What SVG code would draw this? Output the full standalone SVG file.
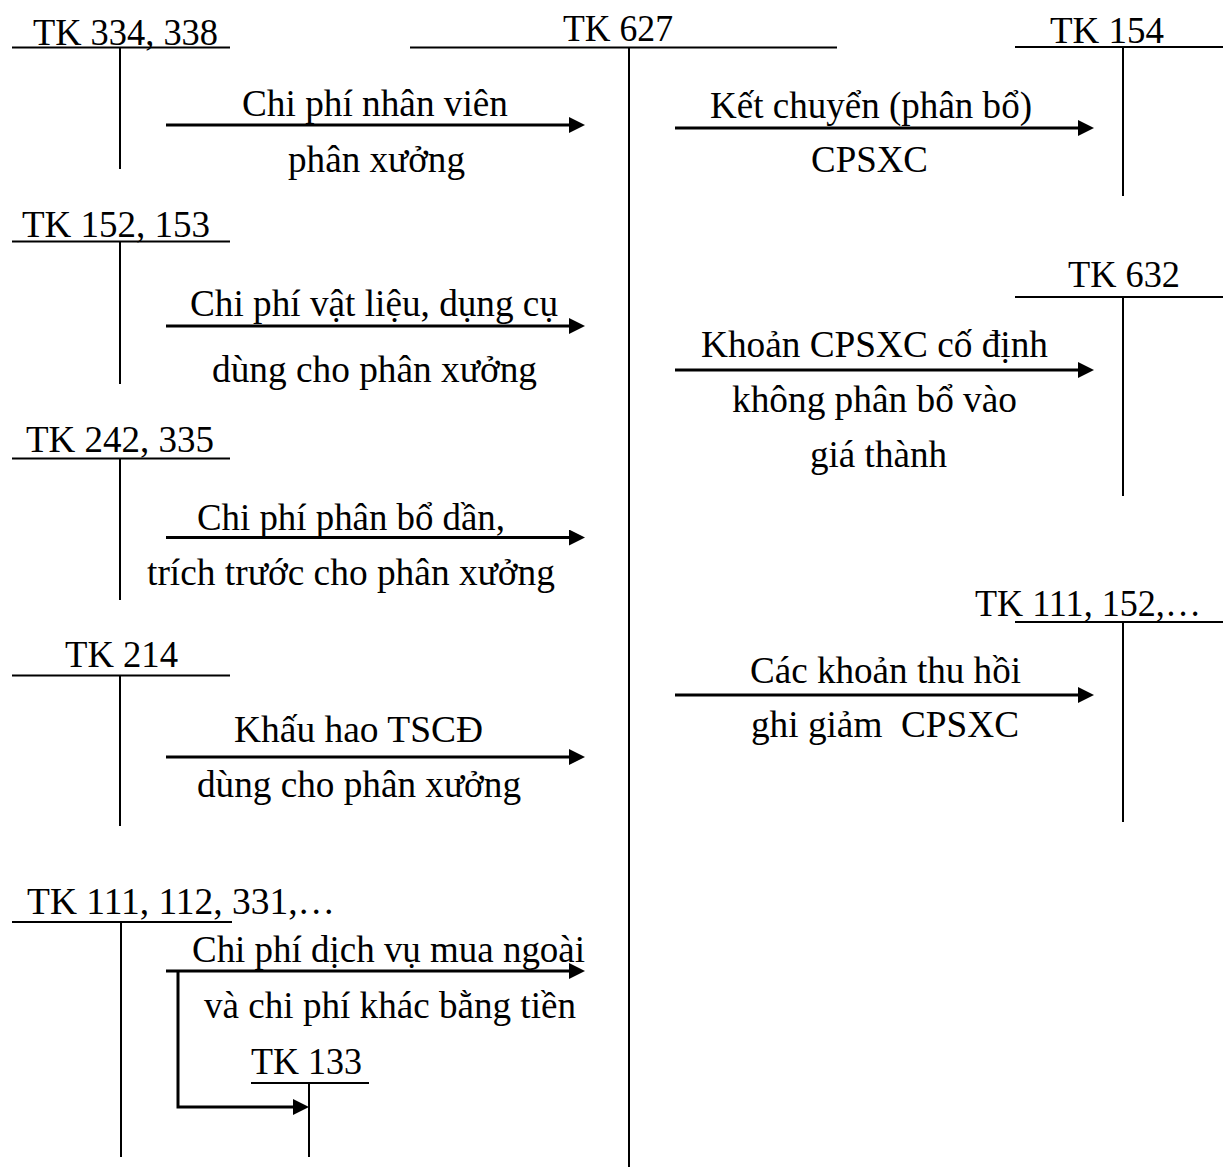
<svg xmlns="http://www.w3.org/2000/svg" width="1223" height="1167" viewBox="0 0 1223 1167">
<style>
  text { font-family: "Liberation Serif", "Times New Roman", serif; font-size: 38px; fill: #000; }
  .t { stroke: #000; stroke-width: 2; fill: none; }
  .a { stroke: #000; stroke-width: 3; fill: none; marker-end: url(#ah); }
</style>
<defs>
  <marker id="ah" markerUnits="userSpaceOnUse" markerWidth="16" markerHeight="16" refX="6" refY="8" orient="auto">
    <path d="M0,0 L16,8 L0,16 Z" fill="#000"/>
  </marker>
</defs>
<rect width="1223" height="1167" fill="#fff"/>

<g id="tk334">
  <line class="t" x1="12" y1="47.5" x2="230" y2="47.5"/>
  <line class="t" x1="120" y1="47.5" x2="120" y2="169"/>
  <text x="33" y="45" textLength="185" lengthAdjust="spacingAndGlyphs">TK 334, 338</text>
</g>
<g id="tk627">
  <line class="t" x1="410" y1="47.5" x2="837" y2="47.5"/>
  <line class="t" x1="629" y1="47.5" x2="629" y2="1167"/>
  <text x="563" y="41" textLength="110" lengthAdjust="spacingAndGlyphs">TK 627</text>
</g>
<g id="tk154">
  <line class="t" x1="1015" y1="47" x2="1223" y2="47"/>
  <line class="t" x1="1123" y1="47" x2="1123" y2="196"/>
  <text x="1050" y="43" textLength="114" lengthAdjust="spacingAndGlyphs">TK 154</text>
</g>
<g id="tk152">
  <line class="t" x1="12" y1="241.5" x2="230" y2="241.5"/>
  <line class="t" x1="120" y1="241.5" x2="120" y2="384"/>
  <text x="22" y="237" textLength="188" lengthAdjust="spacingAndGlyphs">TK 152, 153</text>
</g>
<g id="tk632">
  <line class="t" x1="1015" y1="297" x2="1223" y2="297"/>
  <line class="t" x1="1123" y1="297" x2="1123" y2="496"/>
  <text x="1068" y="287" textLength="112" lengthAdjust="spacingAndGlyphs">TK 632</text>
</g>
<g id="tk242">
  <line class="t" x1="12" y1="458.5" x2="230" y2="458.5"/>
  <line class="t" x1="120" y1="458.5" x2="120" y2="600"/>
  <text x="26" y="452" textLength="188" lengthAdjust="spacingAndGlyphs">TK 242, 335</text>
</g>
<g id="tk111b">
  <line class="t" x1="1015" y1="622" x2="1223" y2="622"/>
  <line class="t" x1="1123" y1="622" x2="1123" y2="822"/>
  <text x="975" y="616" textLength="226" lengthAdjust="spacingAndGlyphs">TK 111, 152,…</text>
</g>
<g id="tk214">
  <line class="t" x1="12" y1="675.5" x2="230" y2="675.5"/>
  <line class="t" x1="120" y1="675.5" x2="120" y2="826"/>
  <text x="65" y="667" textLength="113" lengthAdjust="spacingAndGlyphs">TK 214</text>
</g>
<g id="tk111a">
  <line class="t" x1="12" y1="922" x2="232" y2="922"/>
  <line class="t" x1="121" y1="922" x2="121" y2="1157"/>
  <text x="27" y="914" textLength="308" lengthAdjust="spacingAndGlyphs">TK 111, 112, 331,…</text>
</g>
<g id="tk133">
  <line class="t" x1="251" y1="1083" x2="369" y2="1083"/>
  <line class="t" x1="309" y1="1083" x2="309" y2="1157"/>
  <text x="251" y="1074" textLength="111" lengthAdjust="spacingAndGlyphs">TK 133</text>
</g>

<g id="connectors">
  <line class="a" x1="166" y1="125" x2="575" y2="125"/>
  <line class="a" x1="675" y1="128" x2="1084" y2="128"/>
  <line class="a" x1="166" y1="326" x2="575" y2="326"/>
  <line class="a" x1="675" y1="370" x2="1084" y2="370"/>
  <line class="a" x1="166" y1="537.5" x2="575" y2="537.5"/>
  <line class="a" x1="675" y1="695" x2="1084" y2="695"/>
  <line class="a" x1="166" y1="757" x2="575" y2="757"/>
  <line class="a" x1="166" y1="971" x2="575" y2="971"/>
  <path class="a" d="M178,971 V1107 H299"/>
</g>

<g id="labels">
  <text x="242" y="116" textLength="266" lengthAdjust="spacingAndGlyphs">Chi phí nhân viên</text>
  <text x="288" y="172" textLength="177" lengthAdjust="spacingAndGlyphs">phân xưởng</text>
  <text x="710" y="118" textLength="322" lengthAdjust="spacingAndGlyphs">Kết chuyển (phân bổ)</text>
  <text x="811" y="172" textLength="117" lengthAdjust="spacingAndGlyphs">CPSXC</text>
  <text x="190" y="316" textLength="368" lengthAdjust="spacingAndGlyphs">Chi phí vật liệu, dụng cụ</text>
  <text x="212" y="382" textLength="325" lengthAdjust="spacingAndGlyphs">dùng cho phân xưởng</text>
  <text x="701" y="357" textLength="347" lengthAdjust="spacingAndGlyphs">Khoản CPSXC cố định</text>
  <text x="732" y="412" textLength="285" lengthAdjust="spacingAndGlyphs">không phân bổ vào</text>
  <text x="810" y="467" textLength="137" lengthAdjust="spacingAndGlyphs">giá thành</text>
  <text x="197" y="530" textLength="308" lengthAdjust="spacingAndGlyphs">Chi phí phân bổ dần,</text>
  <text x="147" y="585" textLength="408" lengthAdjust="spacingAndGlyphs">trích trước cho phân xưởng</text>
  <text x="750" y="683" textLength="271" lengthAdjust="spacingAndGlyphs">Các khoản thu hồi</text>
  <text x="751" y="737" textLength="268" lengthAdjust="spacingAndGlyphs" xml:space="preserve">ghi giảm  CPSXC</text>
  <text x="234" y="742" textLength="249" lengthAdjust="spacingAndGlyphs">Khấu hao TSCĐ</text>
  <text x="197" y="797" textLength="324" lengthAdjust="spacingAndGlyphs">dùng cho phân xưởng</text>
  <text x="192" y="962" textLength="393" lengthAdjust="spacingAndGlyphs">Chi phí dịch vụ mua ngoài</text>
  <text x="204" y="1018" textLength="372" lengthAdjust="spacingAndGlyphs">và chi phí khác bằng tiền</text>
</g>
</svg>
